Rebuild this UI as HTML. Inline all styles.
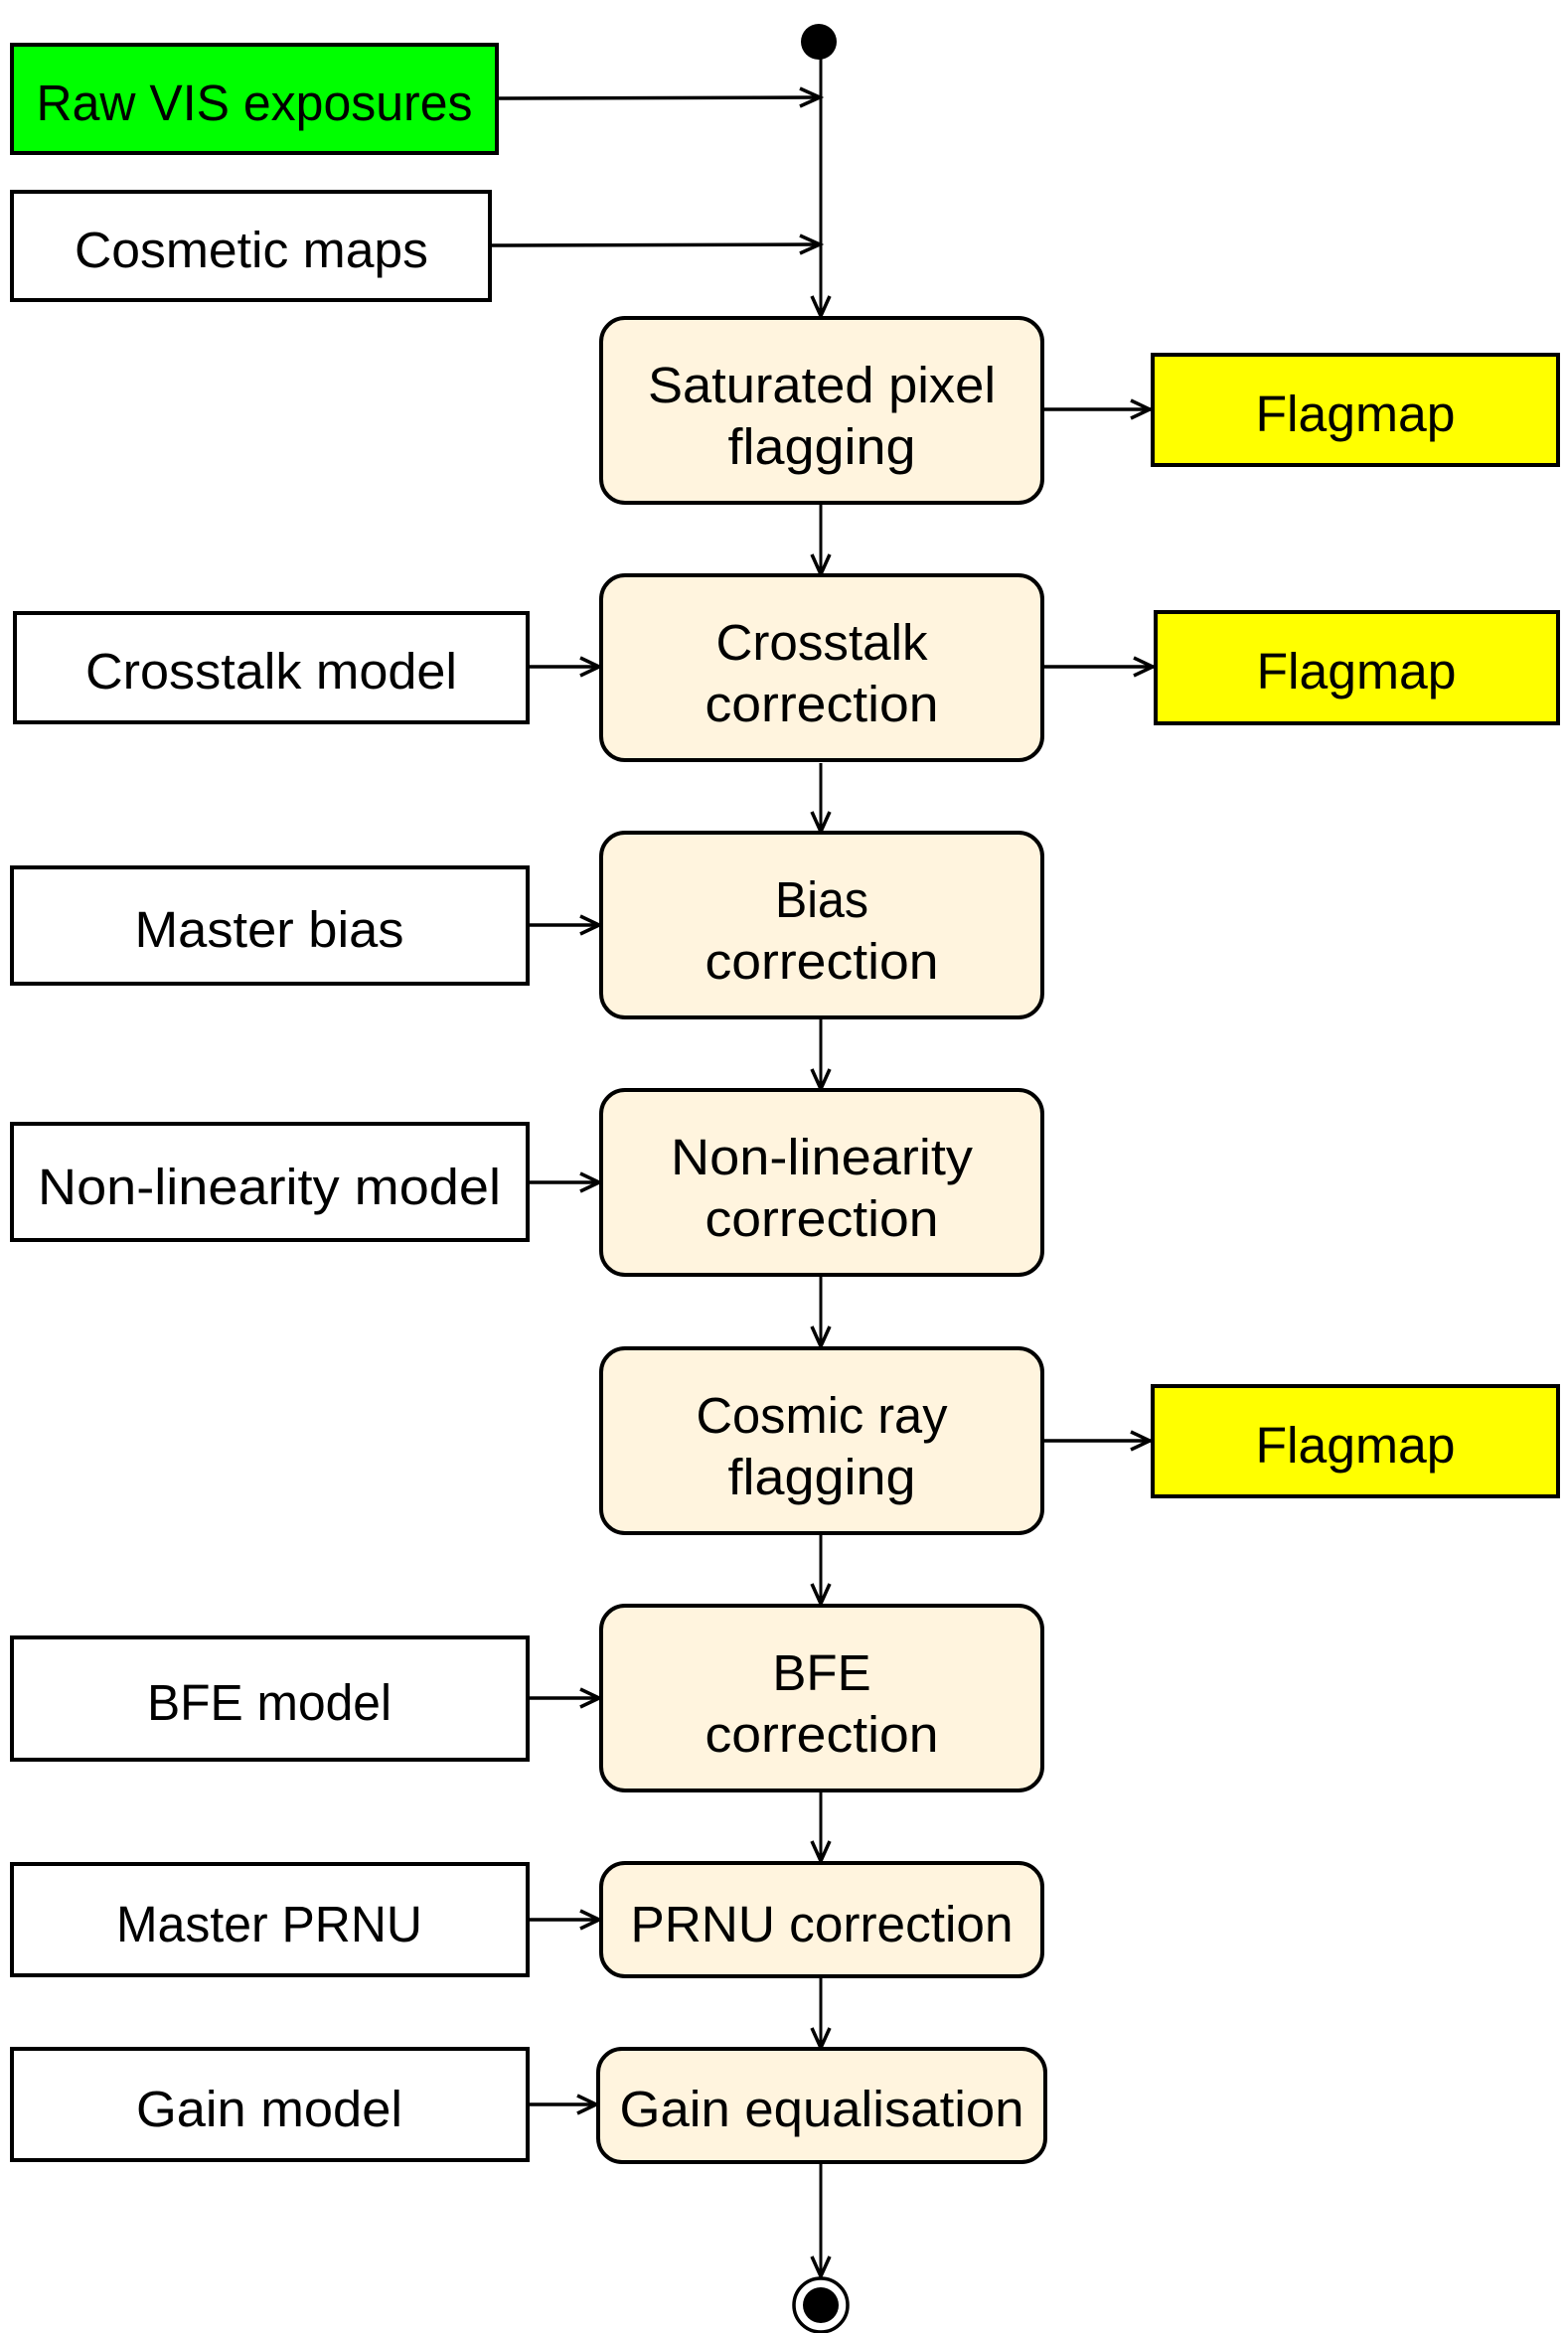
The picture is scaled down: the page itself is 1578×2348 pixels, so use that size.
<!DOCTYPE html>
<html><head><meta charset="utf-8"><style>
html,body{margin:0;padding:0;background:#fff;}
svg{display:block;}
text{font-family:"Liberation Sans",sans-serif;font-size:51px;fill:#000;text-anchor:middle;}
</style></head><body>
<svg width="1578" height="2348" viewBox="0 0 1578 2348" xmlns="http://www.w3.org/2000/svg">
<g fill="none" stroke="#000" stroke-width="3">
<line x1="826" y1="50" x2="826" y2="318"/>
<line x1="826" y1="508" x2="826" y2="578"/>
<line x1="826" y1="768" x2="826" y2="837"/>
<line x1="826" y1="1025" x2="826" y2="1096"/>
<line x1="826" y1="1284" x2="826" y2="1355"/>
<line x1="826" y1="1543" x2="826" y2="1614"/>
<line x1="826" y1="1802" x2="826" y2="1873"/>
<line x1="826" y1="1990" x2="826" y2="2061"/>
<line x1="826" y1="2176" x2="826" y2="2291"/>
</g>
<g fill="none" stroke="#000" stroke-width="3.5">
<line x1="500" y1="99" x2="826" y2="98"/>
<line x1="493" y1="247" x2="826" y2="246"/>
<line x1="1050" y1="412" x2="1158" y2="412"/>
<line x1="1050" y1="671" x2="1161" y2="671"/>
<line x1="1050" y1="1450" x2="1158" y2="1450"/>
<line x1="531" y1="671" x2="604" y2="671"/>
<line x1="531" y1="931" x2="604" y2="931"/>
<line x1="531" y1="1190" x2="604" y2="1190"/>
<line x1="531" y1="1709" x2="604" y2="1709"/>
<line x1="531" y1="1932" x2="604" y2="1932"/>
<line x1="531" y1="2118" x2="601" y2="2118"/>
</g>
<g fill="none" stroke="#000" stroke-width="3.5" stroke-linejoin="miter">
<polyline points="805,89 825,98 805,107"/>
<polyline points="805,237 825,246 805,255"/>
<polyline points="817,298 826,318 835,298"/>
<polyline points="817,558 826,578 835,558"/>
<polyline points="817,817 826,837 835,817"/>
<polyline points="817,1076 826,1096 835,1076"/>
<polyline points="817,1335 826,1355 835,1335"/>
<polyline points="817,1594 826,1614 835,1594"/>
<polyline points="817,1853 826,1873 835,1853"/>
<polyline points="817,2041 826,2061 835,2041"/>
<polyline points="817,2271 826,2291 835,2271"/>
<polyline points="1138,403 1157,412 1138,421"/>
<polyline points="1141,662 1160,671 1141,680"/>
<polyline points="1138,1441 1157,1450 1138,1459"/>
<polyline points="584,662 603,671 584,680"/>
<polyline points="584,922 603,931 584,940"/>
<polyline points="584,1181 603,1190 584,1199"/>
<polyline points="584,1700 603,1709 584,1718"/>
<polyline points="584,1923 603,1932 584,1941"/>
<polyline points="581,2109 600,2118 581,2127"/>
</g>
<circle cx="824" cy="42" r="18" fill="#000"/>
<circle cx="826" cy="2320" r="27" fill="#fff" stroke="#000" stroke-width="3.5"/>
<circle cx="826" cy="2320" r="18" fill="#000"/>
<g stroke="#000" stroke-width="4">
<rect x="12" y="45" width="488" height="109" fill="#00ff00"/>
<rect x="12" y="193" width="481" height="109" fill="#fff"/>
<rect x="15" y="617" width="516" height="110" fill="#fff"/>
<rect x="12" y="873" width="519" height="117" fill="#fff"/>
<rect x="12" y="1131" width="519" height="117" fill="#fff"/>
<rect x="12" y="1648" width="519" height="123" fill="#fff"/>
<rect x="12" y="1876" width="519" height="112" fill="#fff"/>
<rect x="12" y="2062" width="519" height="112" fill="#fff"/>
<rect x="1160" y="357" width="408" height="111" fill="#ffff00"/>
<rect x="1163" y="616" width="405" height="112" fill="#ffff00"/>
<rect x="1160" y="1395" width="408" height="111" fill="#ffff00"/>
</g>
<g stroke="#000" stroke-width="4" fill="#fff4de">
<rect x="605" y="320" width="444" height="186" rx="24"/>
<rect x="605" y="579" width="444" height="186" rx="24"/>
<rect x="605" y="838" width="444" height="186" rx="24"/>
<rect x="605" y="1097" width="444" height="186" rx="24"/>
<rect x="605" y="1357" width="444" height="186" rx="24"/>
<rect x="605" y="1616" width="444" height="186" rx="24"/>
<rect x="605" y="1875" width="444" height="114" rx="24"/>
<rect x="602" y="2062" width="450" height="114" rx="24"/>
</g>
<text x="256" y="121" textLength="439" lengthAdjust="spacingAndGlyphs">Raw VIS exposures</text>
<text x="253" y="269" textLength="356" lengthAdjust="spacingAndGlyphs">Cosmetic maps</text>
<text x="273" y="693" textLength="374" lengthAdjust="spacingAndGlyphs">Crosstalk model</text>
<text x="271" y="953" textLength="271" lengthAdjust="spacingAndGlyphs">Master bias</text>
<text x="271" y="1212" textLength="466" lengthAdjust="spacingAndGlyphs">Non-linearity model</text>
<text x="271" y="1731" textLength="246" lengthAdjust="spacingAndGlyphs">BFE model</text>
<text x="271" y="1954" textLength="308" lengthAdjust="spacingAndGlyphs">Master PRNU</text>
<text x="271" y="2140" textLength="268" lengthAdjust="spacingAndGlyphs">Gain model</text>
<text x="1364" y="434" textLength="201" lengthAdjust="spacingAndGlyphs">Flagmap</text>
<text x="1365" y="693" textLength="201" lengthAdjust="spacingAndGlyphs">Flagmap</text>
<text x="1364" y="1472" textLength="201" lengthAdjust="spacingAndGlyphs">Flagmap</text>
<text x="827" y="405" textLength="350" lengthAdjust="spacingAndGlyphs">Saturated pixel</text>
<text x="827" y="467" textLength="189" lengthAdjust="spacingAndGlyphs">flagging</text>
<text x="827" y="664" textLength="213" lengthAdjust="spacingAndGlyphs">Crosstalk</text>
<text x="827" y="726" textLength="235" lengthAdjust="spacingAndGlyphs">correction</text>
<text x="827" y="923" textLength="94" lengthAdjust="spacingAndGlyphs">Bias</text>
<text x="827" y="985" textLength="235" lengthAdjust="spacingAndGlyphs">correction</text>
<text x="827" y="1182" textLength="304" lengthAdjust="spacingAndGlyphs">Non-linearity</text>
<text x="827" y="1244" textLength="235" lengthAdjust="spacingAndGlyphs">correction</text>
<text x="827" y="1442" textLength="253" lengthAdjust="spacingAndGlyphs">Cosmic ray</text>
<text x="827" y="1504" textLength="189" lengthAdjust="spacingAndGlyphs">flagging</text>
<text x="827" y="1701">BFE</text>
<text x="827" y="1763" textLength="235" lengthAdjust="spacingAndGlyphs">correction</text>
<text x="827" y="1954" textLength="385" lengthAdjust="spacingAndGlyphs">PRNU correction</text>
<text x="827" y="2140" textLength="407" lengthAdjust="spacingAndGlyphs">Gain equalisation</text>
</svg>
</body></html>
